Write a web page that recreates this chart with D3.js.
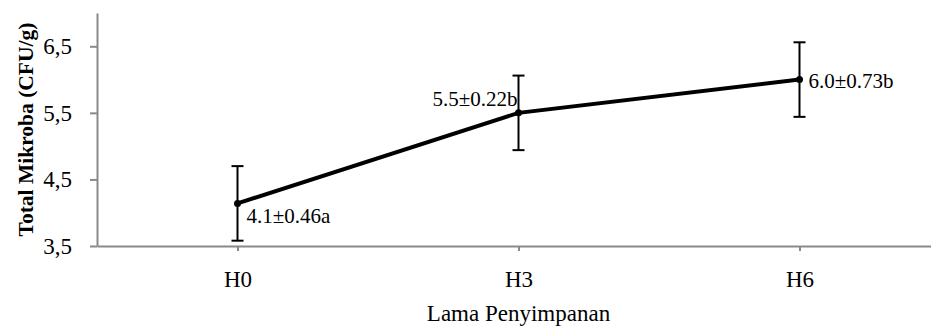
<!DOCTYPE html>
<html>
<head>
<meta charset="utf-8">
<script src="https://cdn.jsdelivr.net/npm/d3@7"></script>
<style>
  body { margin: 0; background: #fff; }
  svg { display: block; font-family: "Liberation Serif", "Times New Roman", serif; }
</style>
</head>
<body>
<svg width="931" height="327"></svg>
<script>
// data
const categories = ["H0", "H3", "H6"];
const means = [4.14, 5.5, 6.0];
const errors = [0.56, 0.56, 0.56];
const labels = ["4.1\u00b10.46a", "5.5\u00b10.22b", "6.0\u00b10.73b"];
const yTicks = [3.5, 4.5, 5.5, 6.5];
const yTickLabels = ["3,5", "4,5", "5,5", "6,5"];
// where each data label sits around its point
const labelPlace = ["belowRight", "aboveLeft", "right"];

const svg = d3.select("svg"),
  plotLeft = 97,
  plotRight = 940,
  plotTop = 13,
  plotBottom = 246,
  axisColor = "#898989",
  tickFont = 23;

const x = d3.scalePoint().domain(categories).range([plotLeft, plotRight]).padding(0.5);
const y = d3.scaleLinear().domain([3.5, 7]).range([plotBottom, plotTop]);

//y axis
const yAxis = svg
  .append("g")
  .attr("transform", `translate(${plotLeft},0)`)
  .call(
    d3
      .axisLeft(y)
      .tickValues(yTicks)
      .tickFormat((d, i) => yTickLabels[i])
      .tickSize(7)
      .tickSizeOuter(0)
      .tickPadding(18)
  );
yAxis.select(".domain").attr("stroke", axisColor).attr("stroke-width", 2);
yAxis.selectAll(".tick line").attr("stroke", axisColor).attr("stroke-width", 2);
yAxis
  .selectAll(".tick text")
  .attr("font-size", tickFont)
  .attr("fill", "#000")
  .attr("font-family", "Liberation Serif, serif");

//x axis
const xAxis = svg
  .append("g")
  .attr("transform", `translate(0,${plotBottom})`)
  .call(d3.axisBottom(x).tickSize(5).tickSizeOuter(0).tickPadding(20));
xAxis.select(".domain").attr("stroke", axisColor).attr("stroke-width", 2);
xAxis.selectAll(".tick line").attr("stroke", axisColor).attr("stroke-width", 2);
xAxis
  .selectAll(".tick text")
  .attr("font-size", tickFont)
  .attr("fill", "#000")
  .attr("font-family", "Liberation Serif, serif");

//axis titles
svg
  .append("text")
  .attr("x", x(categories[1]))
  .attr("y", 321)
  .attr("text-anchor", "middle")
  .attr("font-size", tickFont)
  .text("Lama Penyimpanan");

svg
  .append("text")
  .attr("transform", `translate(33,${(plotTop + plotBottom) / 2}) rotate(-90)`)
  .attr("text-anchor", "middle")
  .attr("font-size", 21.5)
  .attr("font-weight", "bold")
  .text("Total Mikroba (CFU/g)");

const pts = categories.map((c, i) => ({
  c,
  v: means[i],
  e: errors[i],
  label: labels[i],
  place: labelPlace[i],
}));

//error bars
const eb = svg.append("g").attr("stroke", "#000").attr("stroke-width", 2);
pts.forEach((d) => {
  const cx = x(d.c),
    y1 = y(d.v + d.e),
    y2 = y(d.v - d.e);
  eb.append("line").attr("x1", cx).attr("x2", cx).attr("y1", y1).attr("y2", y2);
  eb.append("line").attr("x1", cx - 6).attr("x2", cx + 6).attr("y1", y1).attr("y2", y1);
  eb.append("line").attr("x1", cx - 6).attr("x2", cx + 6).attr("y1", y2).attr("y2", y2);
});

//line
const line = d3
  .line()
  .x((d) => x(d.c))
  .y((d) => y(d.v));
svg
  .append("path")
  .datum(pts)
  .attr("d", line)
  .attr("fill", "none")
  .attr("stroke", "#000")
  .attr("stroke-width", 4);

svg
  .append("g")
  .selectAll("circle")
  .data(pts)
  .join("circle")
  .attr("cx", (d) => x(d.c))
  .attr("cy", (d) => y(d.v))
  .attr("r", 3.5)
  .attr("fill", "#000");

//data labels
svg
  .append("g")
  .attr("font-size", 21)
  .selectAll("text")
  .data(pts)
  .join("text")
  .attr("x", (d) => (d.place === "aboveLeft" ? x(d.c) - 1 : x(d.c) + 9))
  .attr("y", (d) =>
    d.place === "belowRight" ? y(d.v) + 20 : d.place === "aboveLeft" ? y(d.v) - 7 : y(d.v) + 8
  )
  .attr("text-anchor", (d) => (d.place === "aboveLeft" ? "end" : "start"))
  .text((d) => d.label);
</script>
</body>
</html>
